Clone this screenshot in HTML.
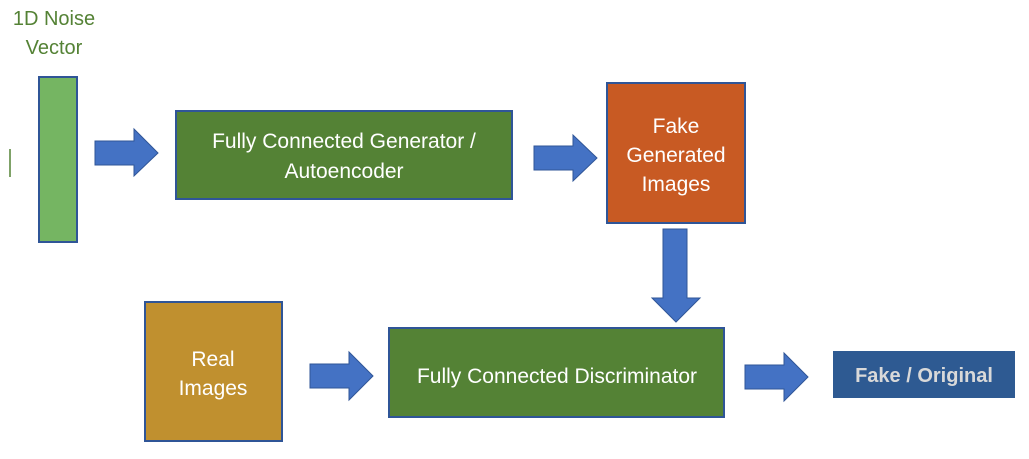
<!DOCTYPE html>
<html><head><style>html,body{margin:0;padding:0;background:#fff;}svg{display:block}text{font-family:"Liberation Sans",sans-serif}</style></head>
<body>
<svg width="1029" height="459" viewBox="0 0 1029 459" xmlns="http://www.w3.org/2000/svg">
<g stroke="#2f5597" stroke-width="2">
<rect x="39" y="77" width="38" height="165" fill="#75b562"/>
<rect x="176" y="111" width="336" height="88" fill="#548235"/>
<rect x="607" y="83" width="138" height="140" fill="#c85a23"/>
<rect x="145" y="302" width="137" height="139" fill="#c0902f"/>
<rect x="389" y="328" width="335" height="89" fill="#548235"/>
</g>
<rect x="833" y="351" width="182" height="47" fill="#2e5a92"/>
<line x1="10" y1="149" x2="10" y2="177" stroke="#548235" stroke-width="1.5"/>
<g fill="#4472c4" stroke="#2f5597" stroke-width="1">
<polygon points="95,141 134,141 134,129 158,153 134,176 134,165 95,165"/>
<polygon points="534,146 573,146 573,135 597,158 573,181 573,170 534,170"/>
<polygon points="663,229 687,229 687,298 700,298 676,322 652,298 663,298"/>
<polygon points="310,364 349,364 349,352 373,376 349,400 349,388 310,388"/>
<polygon points="745,365 784,365 784,353 808,377 784,401 784,389 745,389"/>
</g>
<g fill="#548235" font-size="20" text-anchor="middle">
<text x="54" y="25">1D Noise</text>
<text x="54" y="54">Vector</text>
</g>
<g fill="#fff" font-size="21" text-anchor="middle">
<text x="344" y="148">Fully Connected Generator /</text>
<text x="344" y="178">Autoencoder</text>
<text x="676" y="133">Fake</text>
<text x="676" y="162">Generated</text>
<text x="676" y="191">Images</text>
<text x="213" y="366">Real</text>
<text x="213" y="395">Images</text>
<text x="557" y="383">Fully Connected Discriminator</text>
</g>
<text x="924" y="382" fill="#d9d9d9" font-size="20" font-weight="bold" text-anchor="middle">Fake / Original</text>
</svg>
</body></html>
